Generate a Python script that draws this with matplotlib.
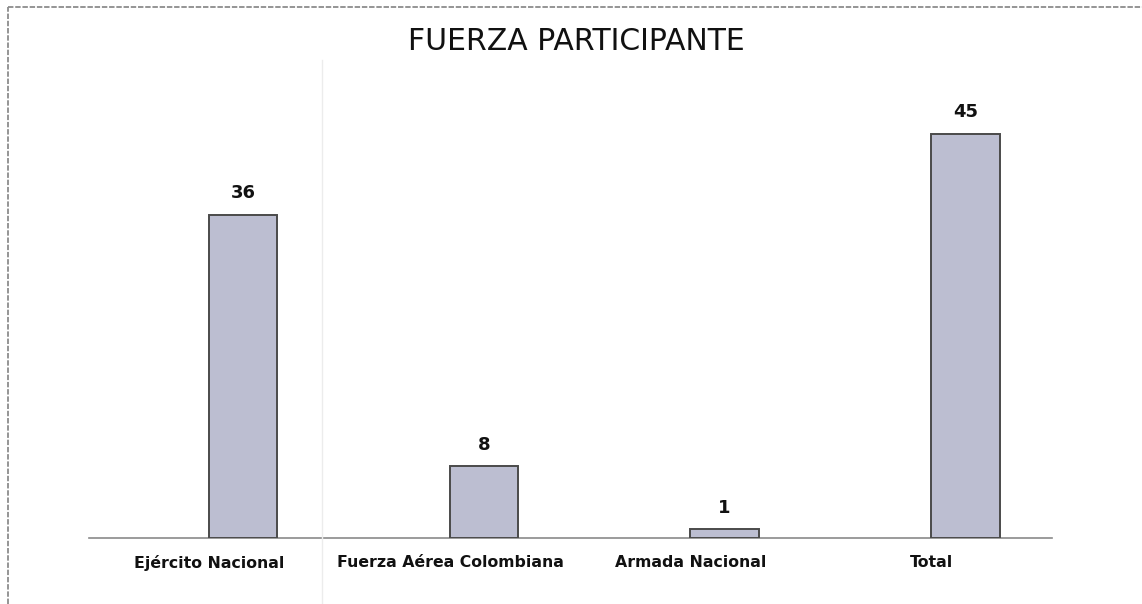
import matplotlib
matplotlib.use("Agg")
import matplotlib.pyplot as plt
from matplotlib.lines import Line2D

title = "FUERZA PARTICIPANTE"
categories = ["Ejército Nacional", "Fuerza Aérea Colombiana", "Armada Nacional", "Total"]
values = [36, 8, 1, 45]

W, H = 1142, 604
fig = plt.figure(figsize=(W / 100, H / 100), dpi=100)
fig.patch.set_facecolor("white")

# axes placement (pixels measured from reference)
ax_l, ax_r, ax_t, ax_b = 89, 1052, 89, 538
ax = fig.add_axes([ax_l / W, 1 - ax_b / H, (ax_r - ax_l) / W, (ax_b - ax_t) / H])

x = list(range(len(categories)))
offset = 0.14
bars = ax.bar([i + offset for i in x], values, width=0.285,
              color="#bcbed1", edgecolor="#4a4a4a", linewidth=1.4, zorder=3)

for b, v in zip(bars, values):
    ax.annotate(str(v), (b.get_x() + b.get_width() / 2, v),
                xytext=(0, 9), textcoords="offset points",
                ha="center", va="bottom", fontsize=13, fontweight="bold",
                family="DejaVu Sans", color="#111111")

ax.set_xlim(-0.5, len(categories) - 0.5)
ax.set_ylim(0, 50)
ax.set_xticks(x)
ax.set_xticklabels(categories, fontsize=11.3, fontweight="bold", family="DejaVu Sans", color="#111111")
ax.tick_params(axis="x", length=0, pad=12)
ax.set_yticks([])
for s in ["top", "right", "left"]:
    ax.spines[s].set_visible(False)
ax.spines["bottom"].set_color("#8a8a8a")
ax.spines["bottom"].set_linewidth(1.2)
ax.patch.set_alpha(0)

# title
fig.text(576 / W, 1 - 41 / H, title, ha="center", va="center",
         fontsize=21.5, family="DejaVu Sans", color="#111111")

# chart border (top and left visible in reference)
fig.add_artist(Line2D([8 / W, 1.0], [1 - 7 / H, 1 - 7 / H], transform=fig.transFigure,
                      color="#8c8c8c", linewidth=1.3, linestyle=(0, (3, 1))))
fig.add_artist(Line2D([8 / W, 8 / W], [0, 1 - 7 / H], transform=fig.transFigure,
                      color="#8c8c8c", linewidth=1.3, linestyle=(0, (3, 1))))
# faint scan line
fig.add_artist(Line2D([322 / W, 322 / W], [0, 1 - 60 / H], transform=fig.transFigure,
                      color="#ececec", linewidth=1.0))

fig.savefig("out.png", dpi=100)
